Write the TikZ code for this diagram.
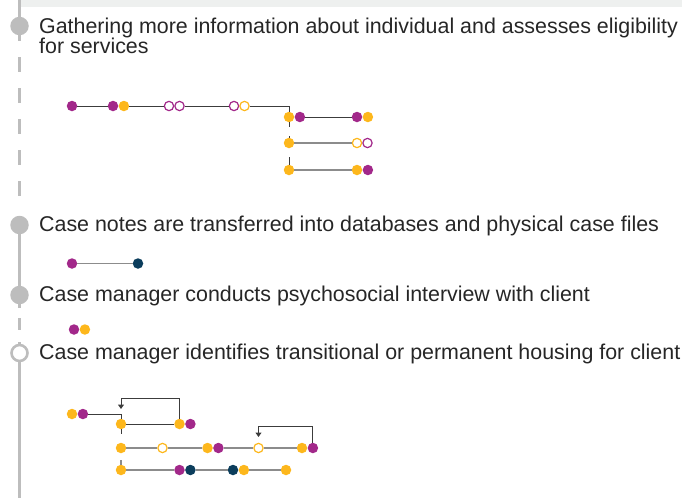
\documentclass[tikz,border=0pt]{standalone}
\usepackage{fontspec}
\setmainfont{Liberation Sans}
\usepackage{xcolor}
\usetikzlibrary{arrows.meta, positioning}

\definecolor{plum}{HTML}{A2288A}
\definecolor{amber}{HTML}{FDB71C}
\definecolor{navy}{HTML}{0B3D5C}
\definecolor{railgray}{HTML}{BDBDBD}
\definecolor{ink}{HTML}{262626}
\definecolor{band}{HTML}{EEF0EF}
\definecolor{wire}{HTML}{3C3C3C}
\definecolor{wiregray}{HTML}{8C8C8C}

\begin{document}
\begin{tikzpicture}[
    x=1pt, y=-1pt,
    stage/.style={anchor=base west, inner sep=0pt, text=ink, align=left, font=\fontsize{21.4}{20}\selectfont},
    milestone/.style={circle, inner sep=0pt, minimum size=18.5pt, fill=railgray},
    openmile/.style={circle, inner sep=0pt, minimum size=16pt, draw=railgray, line width=2.6pt, fill=white},
    railline/.style={draw=railgray, line width=2.6pt},
    dot/.style={circle, inner sep=0pt, minimum size=10.5pt},
    pdot/.style={dot, fill=plum},
    ydot/.style={dot, fill=amber},
    ndot/.style={dot, fill=navy},
    popen/.style={dot, minimum size=9.3pt, draw=plum, line width=1.2pt, fill=white},
    yopen/.style={dot, minimum size=9.3pt, draw=amber, line width=1.2pt, fill=white},
    link/.style={draw=wire, line width=1pt},
    softlink/.style={draw=wiregray, line width=1.6pt},
    back/.style={draw=wire, line width=1pt, -{Triangle[width=6pt, length=4.5pt]}}
]
\useasboundingbox (0,0) rectangle (682,498);
\fill[band] (21,0) rectangle (682,7);

% timeline
\node[milestone] (m1) at (19.5,26) {};
\node[milestone] (m2) at (19.5,225) {};
\node[milestone] (m3) at (19.5,295) {};
\node[openmile] (m4) at (19.5,353) {};
\coordinate (railtop) at (19.5,0);
\coordinate (railend) at (19.5,498);

\draw[railline] (railtop) -- (m1);
\draw[railline, dash pattern=on 6pt off 16pt on 15pt off 16pt on 15pt off 16pt on 15pt off 16pt on 15pt off 16pt on 15pt off 60pt] (m1) -- (m2);
\draw[railline] (m2) -- (m3);
\draw[railline, dash pattern=on 4pt off 10pt on 12pt off 12pt on 4pt off 20pt] (m3) -- (m4);
\draw[railline] (m4) -- (railend);

% base of a two-line node sits on its last line
\node[stage] (t1) at (39,53) {Gathering more information about individual and assesses eligibility\\for services};
\node[stage] (t2) at (39,231.5) {Case notes are transferred into databases and physical case files};
\node[stage] (t3) at (39,301.5) {Case manager conducts psychosocial interview with client};
\node[stage] (t4) at (39,359) {Case manager identifies transitional or permanent housing for client};

% gathering
\node[pdot] (ga1) at (72,106) {};
\node[pdot] (ga2) at (113,106) {};
\node[ydot, right=0pt of ga2] (ga3) {};
\node[popen] (ga4) at (169,106) {};
\node[popen, right=0pt of ga4] (ga5) {};
\node[popen] (ga6) at (234,106) {};
\node[yopen, right=0pt of ga6] (ga7) {};
\node[ydot] (gb1) at (289,117) {};
\node[pdot, right=0pt of gb1] (gb2) {};
\node[pdot] (gb3) at (357,117) {};
\node[ydot, right=0pt of gb3] (gb4) {};
\node[ydot] (gc1) at (289,143) {};
\node[yopen] (gc2) at (357,143) {};
\node[popen, right=0pt of gc2] (gc3) {};
\node[ydot] (gd1) at (289,170) {};
\node[ydot] (gd2) at (357,170) {};
\node[pdot, right=0pt of gd2] (gd3) {};

\draw[link] (ga1) -- (ga2);
\draw[link] (ga3) -- (ga4);
\draw[link] (ga5) -- (ga6);
\draw[link] (ga7) -| (gb1);
\draw[link] (gb2) -- (gb3);
\draw[link] (gb1.south) -- ++(0,5);
\draw[link] (gc1.north) -- ++(0,-2);
\draw[link] (gd1.north) -- ++(0,-8);
\draw[softlink] (gc1) -- (gc2);
\draw[softlink] (gd1) -- (gd2);

% case notes
\node[pdot] (na1) at (72,263.5) {};
\node[ndot] (na2) at (138,263.5) {};
\draw[softlink] (na1) -- (na2);

% interview
\node[pdot] (ia1) at (74,329.5) {};
\node[ydot, right=0pt of ia1] (ia2) {};

% housing
\node[ydot] (ha1) at (72,414) {};
\node[pdot, right=0pt of ha1] (ha2) {};
\node[ydot] (hb1) at (121,424) {};
\node[ydot] (hb2) at (179.5,424) {};
\node[pdot, right=0pt of hb2] (hb3) {};
\node[ydot] (hc1) at (121,448) {};
\node[yopen] (hc2) at (162.5,448) {};
\node[ydot] (hc3) at (207.5,448) {};
\node[pdot, right=0pt of hc3] (hc4) {};
\node[yopen] (hc5) at (258.5,448) {};
\node[ydot] (hc6) at (302,448) {};
\node[pdot, right=0pt of hc6] (hc7) {};
\node[ydot] (hd1) at (121,470) {};
\node[pdot] (hd2) at (179.5,470) {};
\node[ndot, right=0pt of hd2] (hd3) {};
\node[ndot] (hd4) at (233,470) {};
\node[ydot, right=0pt of hd4] (hd5) {};
\node[ydot] (hd6) at (286,470) {};
\coordinate (turn1) at (121,409);
\coordinate (turn2) at (258.5,437);

\draw[link] (ha2) -| (hb1);
\draw[link] (hb1) -- (hb2);
\draw[link] (hb1.south) -- ++(0,5);
\draw[softlink] (hc1) -- (hc2) -- (hc3);
\draw[softlink] (hc4) -- (hc5) -- (hc6);
\draw[softlink] (hd1.north) -- ++(0,-5);
\draw[softlink] (hd1) -- (hd2);
\draw[softlink] (hd3) -- (hd4);
\draw[softlink] (hd5) -- (hd6);
\draw[back] (hb2.north) -- ++(0,-20) -| (turn1);
\draw[back] (hc7.north) -- ++(0,-16) -| (turn2);

\end{tikzpicture}
\end{document}
